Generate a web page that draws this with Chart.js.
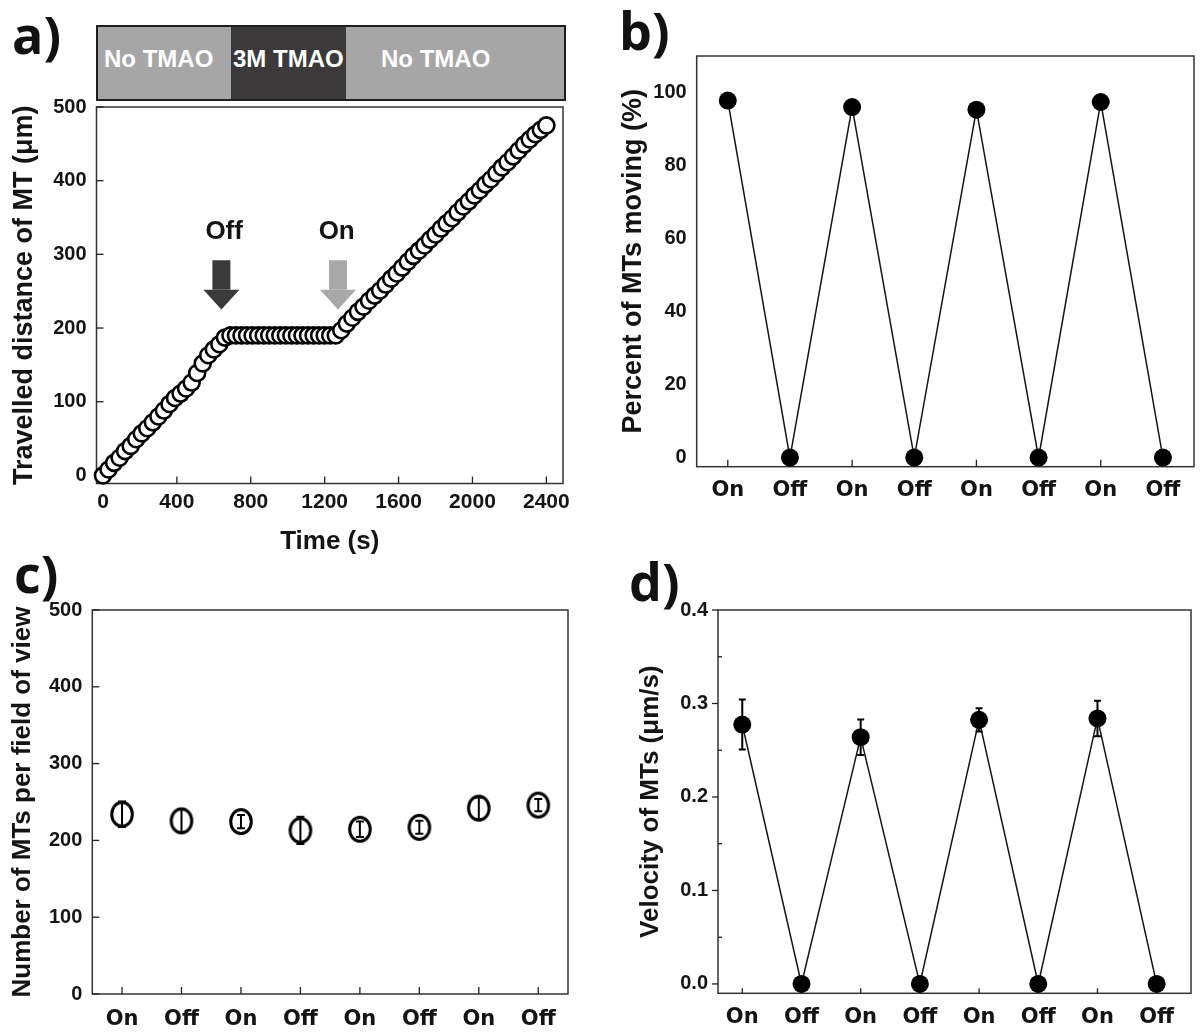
<!DOCTYPE html>
<html>
<head>
<meta charset="utf-8">
<script src="https://cdn.jsdelivr.net/npm/chart.js@4.4.0/dist/chart.umd.min.js"></script>
<style>
  body { margin: 0; background: #fff; }
  #page { position: relative; width: 1203px; height: 1034px; overflow: hidden; }
  canvas { position: absolute; }
  .panel-label { position: absolute; font-family: 'Open Sans', 'Noto Sans', sans-serif; font-weight: 700; font-size: 52px; line-height: 52px; color: #111; }
  #tmao { position: absolute; left: 96px; top: 25px; width: 470px; height: 76px; box-sizing: border-box; border: 2px solid #1e1e1e; background: #a6a6a6; }
  #tmao .dark { position: absolute; left: 133px; top: 0; width: 115px; height: 100%; background: #3b3939; }
  #tmao span { position: absolute; top: 0; color: #fff; font: bold 24px 'Liberation Sans', Arial, sans-serif; line-height: 64px; white-space: nowrap; }
</style>
</head>
<body>
<div id="page">
  <div class="panel-label" style="left:12px;top:8px">a)</div>
  <div class="panel-label" style="left:619px;top:4px">b)</div>
  <div class="panel-label" style="left:14px;top:547px">c)</div>
  <div class="panel-label" style="left:629px;top:555px">d)</div>

  <div id="tmao">
    <div class="dark"></div>
    <span style="left:6px">No TMAO</span>
    <span style="left:135px">3M TMAO</span>
    <span style="left:283px">No TMAO</span>
  </div>

  <canvas id="chartA" width="600" height="560" style="left:0;top:0"></canvas>
  <canvas id="chartB" width="603" height="520" style="left:600px;top:0"></canvas>
  <canvas id="chartC" width="600" height="494" style="left:0;top:540px"></canvas>
  <canvas id="chartD" width="603" height="494" style="left:600px;top:540px"></canvas>
</div>

<script>
// a) travelled distance of one MT over time (30 s steps)
const timeSec = [0, 30, 60, 90, 120, 150, 180, 210, 240, 270, 300, 330, 360, 390, 420, 450, 480, 510, 540, 570,
  600, 630, 660, 690, 720, 750, 780, 810, 840, 870, 900, 930, 960, 990, 1020, 1050, 1080, 1110, 1140, 1170,
  1200, 1230, 1260, 1290, 1320, 1350, 1380, 1410, 1440, 1470, 1500, 1530, 1560, 1590, 1620, 1650, 1680, 1710, 1740, 1770,
  1800, 1830, 1860, 1890, 1920, 1950, 1980, 2010, 2040, 2070, 2100, 2130, 2160, 2190, 2220, 2250, 2280, 2310, 2340, 2370, 2400];
const distanceUm = [0, 8, 17, 24, 33, 40, 49, 57, 64, 72, 80, 88, 97, 105, 111, 118, 126, 139, 152, 163,
  171, 178, 187, 190, 190, 190, 190, 190, 190, 190, 190, 190, 190, 190, 190, 190, 190, 190, 190, 190,
  190, 190, 190, 197, 206, 214, 222, 229, 237, 244, 251, 259, 267, 274, 282, 290, 298, 305, 312, 320,
  327, 335, 342, 349, 357, 365, 372, 380, 387, 395, 402, 410, 418, 425, 433, 441, 449, 456, 463, 469, 475];
const timeTicks = [0, 400, 800, 1200, 1600, 2000, 2400];
const distanceTicks = [0, 100, 200, 300, 400, 500];

// b-d) On/Off switching cycles
const cycleLabels = ['On', 'Off', 'On', 'Off', 'On', 'Off', 'On', 'Off'];
const percentMoving = [97.8, 0, 96.0, 0, 95.3, 0, 97.4, 0];
const percentTicks = [0, 20, 40, 60, 80, 100];
const mtsPerField = [234, 225.5, 224.5, 213, 214.5, 217, 242, 246];
const mtsPerFieldErr = [16.5, 15, 8.7, 17.8, 10, 8.5, 14, 8];
const countTicks = [0, 100, 200, 300, 400, 500];
const velocity = [0.2775, 0, 0.264, 0, 0.2825, 0, 0.284, 0];
const velocityErr = [0.0267, 0, 0.019, 0, 0.0125, 0, 0.019, 0];
const velocityTicks = [0, 0.1, 0.2, 0.3, 0.4];
const velocityMinor = [0.05, 0.15, 0.25, 0.35];

const ARIAL = "'Liberation Sans', Arial, sans-serif";
const VERDANA = "'DejaVu Sans', Verdana, sans-serif";
const INK = '#141414';

Chart.defaults.animation = false;
Chart.defaults.color = INK;
Chart.defaults.font.family = ARIAL;
Chart.defaults.font.weight = 'bold';
Chart.defaults.plugins.legend.display = false;
Chart.defaults.plugins.tooltip.enabled = false;

// plot frame around the chart area
const frameBox = {
  id: 'frameBox',
  beforeDatasetsDraw(chart) {
    const { ctx, chartArea: a } = chart;
    ctx.save();
    ctx.strokeStyle = '#333';
    ctx.lineWidth = 1.5;
    ctx.strokeRect(a.left, a.top, a.right - a.left, a.bottom - a.top);
    ctx.restore();
  }
};

// short tick marks, positive len = inside the frame
const tickMarks = {
  id: 'tickMarks',
  beforeDatasetsDraw(chart, args, opts) {
    const { ctx, chartArea: a } = chart;
    ctx.save();
    ctx.strokeStyle = '#222';
    ctx.lineWidth = 1.3;
    (opts.marks || []).forEach(m => {
      const scale = chart.scales[m.axis];
      m.values.forEach(v => {
        const p = scale.getPixelForValue(v);
        ctx.beginPath();
        if (m.axis === 'x') { ctx.moveTo(p, a.bottom); ctx.lineTo(p, a.bottom - m.len); }
        else { ctx.moveTo(a.left, p); ctx.lineTo(a.left + m.len, p); }
        ctx.stroke();
      });
    });
    ctx.restore();
  }
};

// vertical error bars with caps
const errorBars = {
  id: 'errorBars',
  afterDatasetsDraw(chart, args, opts) {
    if (!opts.errors) return;
    const { ctx } = chart;
    const y = chart.scales.y;
    const meta = chart.getDatasetMeta(0);
    const values = chart.data.datasets[0].data;
    ctx.save();
    ctx.strokeStyle = '#000';
    ctx.lineWidth = opts.width || 2;
    opts.errors.forEach((e, i) => {
      if (!e) return;
      const px = meta.data[i].x;
      const top = y.getPixelForValue(values[i].y + e);
      const bot = y.getPixelForValue(values[i].y - e);
      const c = opts.cap / 2;
      ctx.beginPath();
      ctx.moveTo(px, top); ctx.lineTo(px, bot);
      ctx.moveTo(px - c, top); ctx.lineTo(px + c, top);
      ctx.moveTo(px - c, bot); ctx.lineTo(px + c, bot);
      ctx.stroke();
    });
    ctx.restore();
  }
};

// Off / On arrows in panel a
const arrowNotes = {
  id: 'arrowNotes',
  afterDatasetsDraw(chart, args, opts) {
    if (!opts.notes) return;
    const { ctx, scales: { x, y } } = chart;
    ctx.save();
    opts.notes.forEach(n => {
      const cx = x.getPixelForValue(n.at);
      const yTop = y.getPixelForValue(292), yHead = y.getPixelForValue(252), yTip = y.getPixelForValue(225);
      ctx.fillStyle = n.color;
      ctx.fillRect(cx - 9, yTop, 18, yHead - yTop);
      ctx.beginPath();
      ctx.moveTo(cx - 18, yHead); ctx.lineTo(cx + 18, yHead); ctx.lineTo(cx, yTip);
      ctx.closePath();
      ctx.fill();
      ctx.fillStyle = INK;
      ctx.font = 'bold 26px ' + ARIAL;
      ctx.textAlign = 'center';
      ctx.textBaseline = 'middle';
      ctx.fillText(n.text, x.getPixelForValue(n.textAt), y.getPixelForValue(330));
    });
    ctx.restore();
  }
};

// open, slightly tall ellipse used as the marker in panel c
function ellipseMarker(rx, ry, lw) {
  const c = document.createElement('canvas');
  c.width = Math.ceil(2 * rx + lw + 2);
  c.height = Math.ceil(2 * ry + lw + 2);
  const g = c.getContext('2d');
  g.fillStyle = '#fff';
  g.strokeStyle = '#000';
  g.lineWidth = lw;
  g.beginPath();
  g.ellipse(c.width / 2, c.height / 2, rx, ry, 0, 0, Math.PI * 2);
  g.fill();
  g.stroke();
  return c;
}

function fixedTicks(list) {
  return scale => { scale.ticks = list.map(v => ({ value: v })); };
}

function baseScales(o) {
  return {
    x: {
      type: 'linear', min: o.xMin, max: o.xMax,
      grid: { display: false, drawTicks: false }, border: { display: false },
      afterBuildTicks: fixedTicks(o.xTicks),
      afterFit: s => { s.height = o.xHeight; },
      ticks: {
        autoSkip: false, maxRotation: 0, padding: o.xPad, color: INK,
        font: o.xFont,
        callback: o.xLabel
      },
      title: o.xTitle || { display: false }
    },
    y: {
      type: 'linear', min: o.yMin, max: o.yMax,
      grid: { display: false, drawTicks: false }, border: { display: false },
      afterBuildTicks: fixedTicks(o.yTicks),
      afterFit: s => { s.width = o.yWidth; },
      ticks: {
        padding: 10, color: INK,
        font: { family: ARIAL, size: 20, weight: 'bold' },
        callback: o.yLabel || (v => String(v))
      },
      title: {
        display: true, text: o.yTitle, color: INK,
        font: { family: ARIAL, size: o.yTitleSize || 27, weight: 'bold' },
        padding: { top: o.yTitlePad, bottom: 0 }
      }
    }
  };
}

const cycleFont = { family: VERDANA, size: 21, weight: 'bold' };
const cycleLabel = v => cycleLabels[v];
const cycleIdx = cycleLabels.map((_, i) => i);

// ---- a) ----
new Chart(document.getElementById('chartA'), {
  type: 'scatter',
  data: {
    datasets: [{
      data: timeSec.map((t, i) => ({ x: t, y: distanceUm[i] })),
      pointRadius: 8,
      pointBorderWidth: 2.6,
      pointBackgroundColor: '#fff',
      pointBorderColor: '#000',
      clip: false
    }]
  },
  options: {
    responsive: false,
    layout: { padding: { left: 0, right: 37, top: 107, bottom: 0 } },
    scales: baseScales({
      xMin: -35, xMax: 2490, xTicks: timeTicks, xHeight: 76.5, xPad: 6,
      xFont: { family: ARIAL, size: 21, weight: 'bold' },
      xLabel: v => String(v),
      xTitle: {
        display: true, text: 'Time (s)', color: INK,
        font: { family: ARIAL, size: 26, weight: 'bold' },
        padding: { top: 0, bottom: 2.4 }
      },
      yMin: -11, yMax: 500, yTicks: distanceTicks, yWidth: 96.5, yTitlePad: 8.8,
      yTitle: 'Travelled distance of MT (μm)'
    }),
    plugins: {
      tickMarks: { marks: [{ axis: 'x', values: timeTicks, len: 7 }, { axis: 'y', values: distanceTicks, len: 7 }] },
      arrowNotes: {
        notes: [
          { text: 'Off', at: 641, textAt: 656, color: '#3a3a3a' },
          { text: 'On', at: 1272, textAt: 1265, color: '#a8a8a8' }
        ]
      }
    }
  },
  plugins: [frameBox, tickMarks, arrowNotes]
});

// ---- b) ----
new Chart(document.getElementById('chartB'), {
  type: 'line',
  data: {
    datasets: [{
      data: percentMoving.map((v, i) => ({ x: i, y: v })),
      borderColor: INK,
      borderWidth: 1.5,
      pointRadius: 9,
      pointBackgroundColor: '#000',
      pointBorderColor: '#000',
      pointBorderWidth: 0,
      clip: false
    }]
  },
  options: {
    responsive: false,
    layout: { padding: { left: 0, right: 1.3, top: 56, bottom: 0 } },
    scales: baseScales({
      xMin: -0.5, xMax: 7.5, xTicks: cycleIdx, xHeight: 53.3, xPad: 11,
      xFont: cycleFont, xLabel: cycleLabel,
      yMin: -2.5, yMax: 110, yTicks: percentTicks, yWidth: 96.7, yTitlePad: 17.8,
      yTitle: 'Percent of MTs moving (%)'
    }),
    plugins: {
      tickMarks: { marks: [{ axis: 'x', values: cycleIdx, len: 7 }] }
    }
  },
  plugins: [frameBox, tickMarks]
});

// ---- c) ----
new Chart(document.getElementById('chartC'), {
  type: 'line',
  data: {
    datasets: [{
      data: mtsPerField.map((v, i) => ({ x: i, y: v })),
      showLine: false,
      pointStyle: ellipseMarker(10.3, 12, 3),
      pointRadius: 11,
      clip: false
    }]
  },
  options: {
    responsive: false,
    layout: { padding: { left: 0, right: 32, top: 70, bottom: 0 } },
    scales: baseScales({
      xMin: -0.5, xMax: 7.5, xTicks: cycleIdx, xHeight: 40, xPad: 12.5,
      xFont: cycleFont, xLabel: cycleLabel,
      yMin: 0, yMax: 500, yTicks: countTicks, yWidth: 92.3, yTitlePad: 7.4,
      yTitleSize: 26,
      yTitle: 'Number of MTs per field of view'
    }),
    plugins: {
      tickMarks: { marks: [{ axis: 'x', values: cycleIdx, len: 7 }, { axis: 'y', values: countTicks, len: 7 }] },
      errorBars: { errors: mtsPerFieldErr, cap: 8, width: 2 }
    }
  },
  plugins: [frameBox, tickMarks, errorBars]
});

// ---- d) ----
new Chart(document.getElementById('chartD'), {
  type: 'line',
  data: {
    datasets: [{
      data: velocity.map((v, i) => ({ x: i, y: v })),
      borderColor: INK,
      borderWidth: 1.5,
      pointRadius: 9,
      pointBackgroundColor: '#000',
      pointBorderColor: '#000',
      pointBorderWidth: 0,
      clip: false
    }]
  },
  options: {
    responsive: false,
    layout: { padding: { left: 0, right: 12, top: 70, bottom: 0 } },
    scales: baseScales({
      xMin: -0.41, xMax: 7.58, xTicks: cycleIdx, xHeight: 40.7, xPad: 12,
      xFont: cycleFont, xLabel: cycleLabel,
      yMin: -0.01, yMax: 0.4, yTicks: velocityTicks, yWidth: 118, yTitlePad: 35.4,
      yTitleSize: 26,
      yTitle: 'Velocity of MTs (μm/s)',
      yLabel: v => v.toFixed(1)
    }),
    plugins: {
      tickMarks: {
        marks: [
          { axis: 'x', values: cycleIdx, len: 5 },
          { axis: 'y', values: velocityTicks, len: -6 },
          { axis: 'y', values: velocityMinor, len: 4 }
        ]
      },
      errorBars: { errors: velocityErr, cap: 7, width: 2 }
    }
  },
  plugins: [frameBox, tickMarks, errorBars]
});
</script>
</body>
</html>
